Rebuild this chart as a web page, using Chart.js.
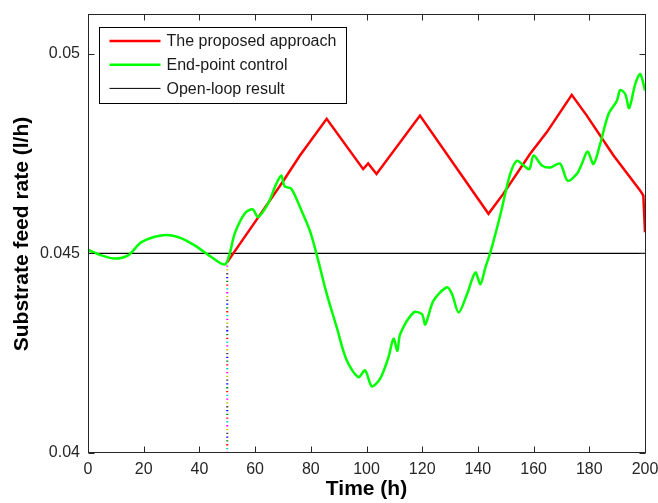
<!DOCTYPE html>
<html>
<head>
<meta charset="utf-8">
<script src="https://cdn.jsdelivr.net/npm/chart.js@4"></script>
<style>
  html, body { margin: 0; padding: 0; background: #fff; }
  canvas { display: block; }
</style>
</head>
<body>
<canvas id="feedChart" width="658" height="503"></canvas>
<script>
// values
const xTicks = [0, 20, 40, 60, 80, 100, 120, 140, 160, 180, 200];
const yTicks = [0.04, 0.045, 0.05];

const proposedTime = [50, 61.8, 70, 76.1, 85.7, 98.8, 100.6, 103.6, 119.2, 143.8, 149.1, 158.7, 164.7, 173.7, 179.1, 188.7, 198.3, 199.4, 200];
const proposedRate = [0.04478, 0.04597, 0.0468, 0.04745, 0.04837, 0.04711, 0.04725, 0.04699, 0.04845, 0.04599, 0.04649, 0.04749, 0.04803, 0.04897, 0.04845, 0.04745, 0.04657, 0.04645, 0.04553];

const endPointTime = [0, 4.8, 9.6, 14.4, 19.2, 26.3, 32.3, 38.3, 44.3, 49.1, 50.9, 52.7, 56.3, 59.2, 61, 64.6, 67.6, 69.4, 70.6, 73, 76.6, 79.6, 82, 85.7, 89.3, 92.9, 97.1, 99.5, 101.9, 104.9, 107.9, 109.7, 111.1, 112.1, 116.9, 119.9, 121.1, 124.1, 128.9, 130.7, 133.1, 136.1, 139.1, 140.9, 142.7, 144.5, 148, 151.6, 154, 156.4, 158.5, 160, 163, 166, 169.5, 172.2, 175.5, 177.3, 179.4, 181.5, 183.9, 186.9, 189.9, 191.1, 192.9, 194.3, 196.5, 198.3, 200];
const endPointRate = [0.04509, 0.04495, 0.04487, 0.04495, 0.04528, 0.04545, 0.04541, 0.0452, 0.04491, 0.04472, 0.045, 0.0455, 0.046, 0.0461, 0.04591, 0.04624, 0.04674, 0.04695, 0.04668, 0.04662, 0.04608, 0.04558, 0.045, 0.04399, 0.04315, 0.04232, 0.0419, 0.04207, 0.04167, 0.04186, 0.0424, 0.04286, 0.04256, 0.04298, 0.04352, 0.04348, 0.04322, 0.04382, 0.04415, 0.04398, 0.04352, 0.04398, 0.04452, 0.04423, 0.04465, 0.04503, 0.04595, 0.04699, 0.04732, 0.0472, 0.04711, 0.04745, 0.0472, 0.04715, 0.04725, 0.04682, 0.04699, 0.04724, 0.04755, 0.04724, 0.04774, 0.04849, 0.04882, 0.04909, 0.04899, 0.04864, 0.04924, 0.04949, 0.04908];

const openLoopTime = [0, 200];
const openLoopRate = [0.045, 0.045];

// dotted marker where the control starts
const switchTime = [50, 50];
const switchRate = [0.04, 0.0447];

const toPoints = (xs, ys) => xs.map((x, i) => ({ x: x, y: ys[i] }));

const dotColors = ['#ff00ff', '#00c8c8', '#ff0000', '#008000', '#0000ff', '#404040', '#c8c800'];
const dotDatasets = dotColors.map((c, i) => ({
    label: '',
    data: toPoints(switchTime, switchRate),
    borderColor: c,
    borderWidth: 2,
    borderDash: [1.3, 25.3],
    borderDashOffset: -i * 3.8,
    pointRadius: 0,
    order: 5
}));

const legendItems = [
    { text: 'The proposed approach', color: '#ff0000', width: 2.5 },
    { text: 'End-point control', color: '#00ff00', width: 2.5 },
    { text: 'Open-loop result', color: '#000000', width: 1 }
];

// MATLAB style box, inward ticks and legend
const boxPlugin = {
    id: 'boxPlugin',
    afterDraw(chart) {
        const ctx = chart.ctx;
        const a = chart.chartArea;
        const xs = chart.scales.x, ys = chart.scales.y;
        const L = Math.round(a.left) + 0.5, R = Math.round(a.right) + 0.5;
        const T = Math.round(a.top) - 0.5, B = Math.round(a.bottom) - 0.5;
        ctx.save();
        ctx.strokeStyle = '#262626';
        ctx.lineWidth = 1;
        ctx.strokeRect(L, T, R - L, B - T);
        ctx.beginPath();
        xTicks.forEach(v => {
            const px = Math.round(xs.getPixelForValue(v)) + 0.5;
            ctx.moveTo(px, B); ctx.lineTo(px, B - 6);
            ctx.moveTo(px, T); ctx.lineTo(px, T + 6);
        });
        yTicks.forEach(v => {
            const py = Math.round(ys.getPixelForValue(v)) + 0.5;
            ctx.moveTo(L, py); ctx.lineTo(L + 6, py);
            ctx.moveTo(R, py); ctx.lineTo(R - 6, py);
        });
        ctx.stroke();

        // legend box
        const lx = Math.round(a.left + 11) + 0.5, ly = Math.round(a.top + 12) + 0.5;
        const lw = 247, lh = 76;
        ctx.fillStyle = '#fff';
        ctx.fillRect(lx, ly, lw, lh);
        ctx.strokeStyle = '#000';
        ctx.strokeRect(lx, ly, lw, lh);
        ctx.font = '16px "Liberation Sans", Arial, sans-serif';
        ctx.textBaseline = 'middle';
        ctx.textAlign = 'left';
        legendItems.forEach((item, i) => {
            const ry = ly + 13.5 + i * 23.7;
            ctx.beginPath();
            ctx.strokeStyle = item.color;
            ctx.lineWidth = item.width;
            ctx.moveTo(lx + 10, ry);
            ctx.lineTo(lx + 61, ry);
            ctx.stroke();
            ctx.fillStyle = '#1a1a1a';
            ctx.fillText(item.text, lx + 67, ry + 1);
        });
        ctx.restore();
    }
};

const ctx = document.getElementById('feedChart').getContext('2d');
const feedChart = new Chart(ctx, {
    type: 'line',
    data: {
        datasets: [
            {
                label: 'The proposed approach',
                data: toPoints(proposedTime, proposedRate),
                borderColor: '#ff0000',
                borderWidth: 2.5,
                pointRadius: 0,
                tension: 0,
                order: 2
            },
            {
                label: 'End-point control',
                data: toPoints(endPointTime, endPointRate),
                borderColor: '#00ff00',
                borderWidth: 2.5,
                pointRadius: 0,
                tension: 0.3,
                order: 1
            },
            {
                label: 'Open-loop result',
                data: toPoints(openLoopTime, openLoopRate),
                borderColor: '#000000',
                borderWidth: 1.3,
                pointRadius: 0,
                order: 3
            }
        ].concat(dotDatasets)
    },
    options: {
        responsive: false,
        animation: false,
        devicePixelRatio: 1,
        layout: { padding: { top: 15, right: 13, left: 0, bottom: 0 } },
        plugins: {
            legend: { display: false },
            tooltip: { enabled: false }
        },
        scales: {
            x: {
                type: 'linear',
                min: 0,
                max: 200,
                grid: { display: false },
                border: { display: false },
                afterBuildTicks: s => { s.ticks = xTicks.map(v => ({ value: v })); },
                afterFit: s => { s.height = 50; s.paddingLeft = 0; s.paddingRight = 0; },
                ticks: {
                    padding: -1,
                    maxRotation: 0,
                    color: '#262626',
                    font: { family: '"Liberation Sans", Arial, sans-serif', size: 16 }
                },
                title: {
                    display: true,
                    text: 'Time (h)',
                    color: '#000',
                    padding: { top: 0, bottom: 1 },
                    font: { family: '"Liberation Sans", Arial, sans-serif', size: 21, weight: 'bold' }
                }
            },
            y: {
                min: 0.04,
                max: 0.05097,
                grid: { display: false },
                border: { display: false },
                afterBuildTicks: s => { s.ticks = yTicks.map(v => ({ value: v })); },
                afterFit: s => { s.width = 88; },
                ticks: {
                    padding: 0,
                    color: '#262626',
                    callback: v => String(+v.toFixed(3)),
                    font: { family: '"Liberation Sans", Arial, sans-serif', size: 16 }
                },
                title: {
                    display: true,
                    text: 'Substrate feed rate (l/h)',
                    color: '#000',
                    padding: { top: 10, bottom: 0 },
                    font: { family: '"Liberation Sans", Arial, sans-serif', size: 21, weight: 'bold' }
                }
            }
        }
    },
    plugins: [boxPlugin]
});
</script>
</body>
</html>
